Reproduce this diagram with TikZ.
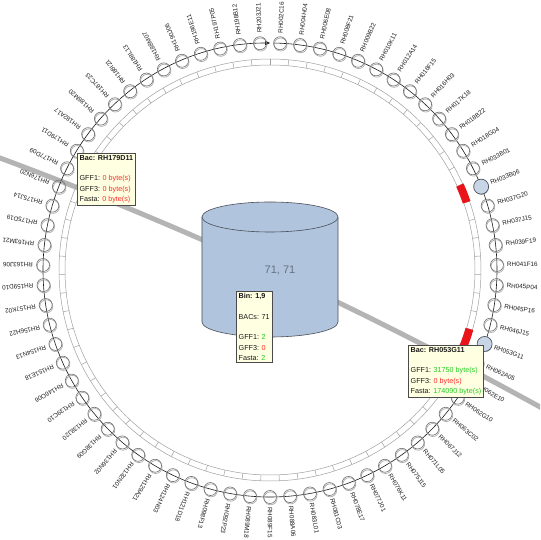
\documentclass[tikz,border=0pt]{standalone}
\usepackage{fontspec}
\setmainfont{Liberation Sans}
\usetikzlibrary{arrows.meta}
\definecolor{edgegray}{HTML}{B4B4B4}
\definecolor{ringgray}{HTML}{A0A0A0}
\definecolor{segred}{HTML}{E8141A}
\definecolor{cylfill}{HTML}{B0C4DE}
\definecolor{cylline}{HTML}{4A4F57}
\definecolor{tipfill}{HTML}{FFFFE1}
\definecolor{tipline}{HTML}{4A4A4A}
\definecolor{okgreen}{HTML}{22CC22}
\definecolor{errred}{HTML}{FF2A2A}
\definecolor{selfill}{HTML}{C8D5E6}
\definecolor{selline}{HTML}{4F5560}
\definecolor{valgray}{HTML}{66727F}
\definecolor{dotgray}{HTML}{777777}
\definecolor{dotlight}{HTML}{A8A8A8}
\begin{document}
\begin{tikzpicture}[x=1pt,y=1pt,
  baclabel/.style={font=\fontsize{6.3}{7}\selectfont, text=black!88, anchor=west, inner sep=0pt},
  bacdot/.style={circle, draw=dotgray, line width=0.65pt, minimum size=13pt, inner sep=0pt},
  bacshade/.style={draw=dotlight, line width=0.65pt},
  bacsel/.style={circle, draw=selline, fill=selfill, line width=0.7pt, minimum size=15pt, inner sep=0pt},
  ringline/.style={draw=ringgray, line width=0.5pt},
  binedge/.style={draw=edgegray, line width=5pt},
  orbit/.style={draw=black!90, line width=0.6pt},
  tipbox/.style={draw=tipline, fill=tipfill, line width=0.7pt, align=left, anchor=north west,
     inner xsep=2.3pt, inner ysep=1.8pt, text=black!90},
  tipfont/.style={font=\fontsize{7.2}{10.4}\selectfont},
  cylbody/.style={fill=cylfill},
  cyledge/.style={draw=cylline, line width=0.6pt}
]
\useasboundingbox (-270,-270) rectangle (270,270);
\fill[white] (-270,-270) rectangle (270,270);
\clip (-270,-270) rectangle (270,270);

% edge between bins
\coordinate (e1) at (-280,115.7);
\coordinate (e2) at (280,-142.5);
\draw[binedge] (e1) .. controls (-90,45.7) and (90,-37.3) .. (e2);

% inner ring with segments
\draw[ringline] (0,0) circle (205);
\draw[ringline] (0,0) circle (211);
\foreach \k in {0,...,70}{
  \pgfmathsetmacro\ta{90-\k*(360/71)}
  \draw[ringline] (\ta:205) -- (\ta:211);
}
\foreach \k in {13,21}{
  \pgfmathsetmacro\sa{90-\k*(360/71)}
  \pgfmathsetmacro\sb{90-(\k+1)*(360/71)}
  \fill[segred] (\sa:204) arc[start angle=\sa, end angle=\sb, radius=204]
     -- (\sb:212) arc[start angle=\sb, end angle=\sa, radius=212] -- cycle;
}

% orbit line through the BACs
\draw[orbit, -{Triangle[length=5pt,width=4.5pt]}] (89:227) arc[start angle=89, end angle=-270, radius=227];

% BACs
\foreach \nm [count=\k from 0] in {RH002C16,RH004H04,RH006E08,RH008F21,RH009B22,RH010K11,RH012A14,RH016F15,RH016H03,RH017K18,RH018B22,RH018G04,RH033B01,RH033B06,RH037G20,RH037J15,RH039F19,RH041F16,RH045P04,RH045P16,RH046J15,RH053G11,RH062A05,RH062E10,RH062G10,RH063C02,RH067J12,RH071L05,RH075J15,RH076K11,RH077J01,RH078E17,RH081C03,RH083L01,RH088A06,RH089F15,RH089M18,RH092P23,RH098F13,RH121D18,RH124N03,RH129A21,RH132N01,RH136N02,RH138G09,RH138J20,RH139C10,RH146O06,RH151E18,RH154N13,RH156H22,RH157K02,RH159D10,RH163J06,RH163M21,RH175D19,RH175J14,RH176N20,RH177D09,RH179D11,RH182A17,RH186M20,RH187C23,RH188I21,RH188L13,RH188M07,RH190J06,RH196E11,RH197P05,RH198B12,RH203J21}{
  \pgfmathsetmacro\ang{90-(\k+0.5)*(360/71)}
  \draw[bacshade] (\ang:227) ++(0.6,-1.3) circle (6.5);
  \node[bacdot] (b\k) at (\ang:227) {};
  \node[baclabel, rotate=\ang] (l\k) at (\ang:237) {\nm};
}
\node[bacsel] (s13) at (b13) {};
\node[bacsel] (s21) at (b21) {};

% bin cylinder
\fill[cylbody] (-68,53) -- (-68,-52) arc[start angle=180, end angle=360, x radius=68, y radius=15] -- (68,53) -- cycle;
\draw[cyledge] (-68,53) -- (-68,-52) arc[start angle=180, end angle=360, x radius=68, y radius=15] -- (68,53);
\filldraw[cylbody, cyledge] (0,53) ellipse [x radius=68, y radius=15];
\node[font=\fontsize{11}{13}\selectfont, text=valgray] (binval) at (10,0) {71, 71};

% tooltips
\node[tipbox, tipfont] (bintip) at (-34,-21) {\textbf{Bin: 1,9}\\[10.4pt]BACs: 71\\[10.4pt]GFF1: \textcolor{okgreen}{2}\\GFF3: \textcolor{errred}{0}\\Fasta: \textcolor{okgreen}{2}};
\node[tipbox, tipfont] (tipA) at (-193,117) {\textbf{Bac: RH179D11}\\[10.4pt]GFF1: \textcolor{errred}{0 byte(s)}\\GFF3: \textcolor{errred}{0 byte(s)}\\Fasta: \textcolor{errred}{0 byte(s)}};
\node[tipbox, tipfont] (tipB) at (138,-75) {\textbf{Bac: RH053G11}\\[10.4pt]GFF1: \textcolor{okgreen}{31750 byte(s)}\\GFF3: \textcolor{errred}{0 byte(s)}\\Fasta: \textcolor{okgreen}{174090 byte(s)}};
\end{tikzpicture}
\end{document}
